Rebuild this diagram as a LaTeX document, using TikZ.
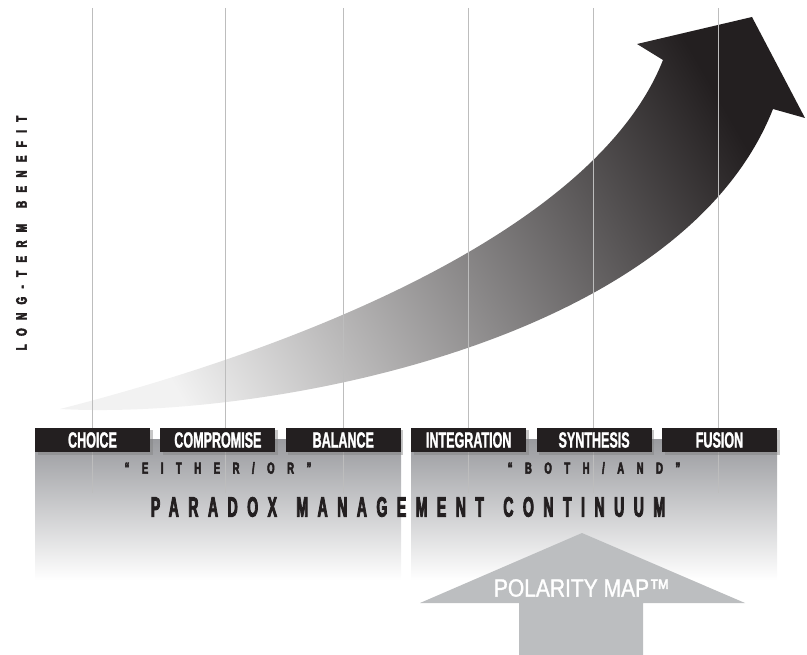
\documentclass[tikz,border=0pt]{standalone}
\usepackage{fontspec}
\setmainfont{Liberation Sans}
\newfontfamily\stagefont[FakeStretch=0.57,FakeBold=1.2]{Liberation Sans}
\newfontfamily\quotefont[FakeStretch=0.6,FakeBold=3,LetterSpace=78]{Liberation Sans}
\newfontfamily\axisfont[FakeStretch=0.65,FakeBold=4,LetterSpace=56]{Liberation Sans}
\newfontfamily\titlefont[FakeStretch=0.5,FakeBold=2.8,LetterSpace=34]{Liberation Sans}
\newfontfamily\mapfont[FakeStretch=0.84,FakeBold=1.2]{Liberation Sans}
\usetikzlibrary{shadows}

\definecolor{ink}{HTML}{231F20}
\definecolor{panelgray}{HTML}{9A9B9F}
\definecolor{mapgray}{HTML}{BCBEC0}
\definecolor{gridgray}{HTML}{BDBDBD}

\begin{document}
\begin{tikzpicture}[x=1pt,y=-1pt,
  stage/.style={fill=ink, text=white, minimum width=115pt, minimum height=24pt,
    inner sep=0pt, font=\stagefont\bfseries\fontsize{22}{22}\selectfont,
    drop shadow={shadow xshift=2.5pt, shadow yshift=-2.5pt, opacity=0.45}},
  spaced/.style={text=ink, inner sep=0pt},
  gridline/.style={gridgray, line width=1pt}]
  \useasboundingbox (0,0) rectangle (807,655);

  % shaded panels under the continuum
  \shade[top color=panelgray, bottom color=white] (35,440) rectangle (401,580);
  \shade[top color=panelgray, bottom color=white] (411,440) rectangle (777,580);

  % rising arrow
  \shade[left color=black!5, right color=ink, shading angle=120]
    (60,409) .. controls (330,340) and (600,220) .. (663,60)
    -- (637,44) -- (752,17) -- (805,118) -- (773,109)
    .. controls (680,345) and (260,420) .. (60,409) -- cycle;

  % grid lines
  \foreach \x in {92,225,343,468,593,718}{
    \draw[gridline] (\x,8) -- (\x,493);
  }

  % stages of the continuum
  \foreach \name/\lbl [count=\i from 0] in {choice/CHOICE, compromise/COMPROMISE,
      balance/BALANCE, integration/INTEGRATION, synthesis/SYNTHESIS, fusion/FUSION}{
    \node[stage] (\name) at ({92.5+125.4*\i},440) {\lbl};
  }

  % group labels
  \node[spaced, font=\quotefont\bfseries\fontsize{16}{16}\selectfont] (eitheror) at (218,468) {“EITHER/OR”};
  \node[spaced, font=\quotefont\bfseries\fontsize{16}{16}\selectfont] (bothand) at (594,468) {“BOTH/AND”};
  \node[spaced, font=\titlefont\bfseries\fontsize{28}{28}\selectfont] (continuum) at (408,507)
    {PARADOX\hspace{6pt} MANAGEMENT\hspace{6pt} CONTINUUM};

  % vertical axis label
  \node[spaced, rotate=90, font=\axisfont\bfseries\fontsize{15}{15}\selectfont] (benefit) at (21.5,233)
    {LONG-TERM\hspace{5pt} BENEFIT};

  % polarity map arrow
  \fill[mapgray] (519,655) -- (519,603) -- (420,603) -- (582,533) -- (745,603)
    -- (643,603) -- (643,655) -- cycle;
  \node[text=white, inner sep=0pt, font=\mapfont\fontsize{25}{25}\selectfont] (polmap) at (582,588) {POLARITY MAP™};
\end{tikzpicture}
\end{document}
